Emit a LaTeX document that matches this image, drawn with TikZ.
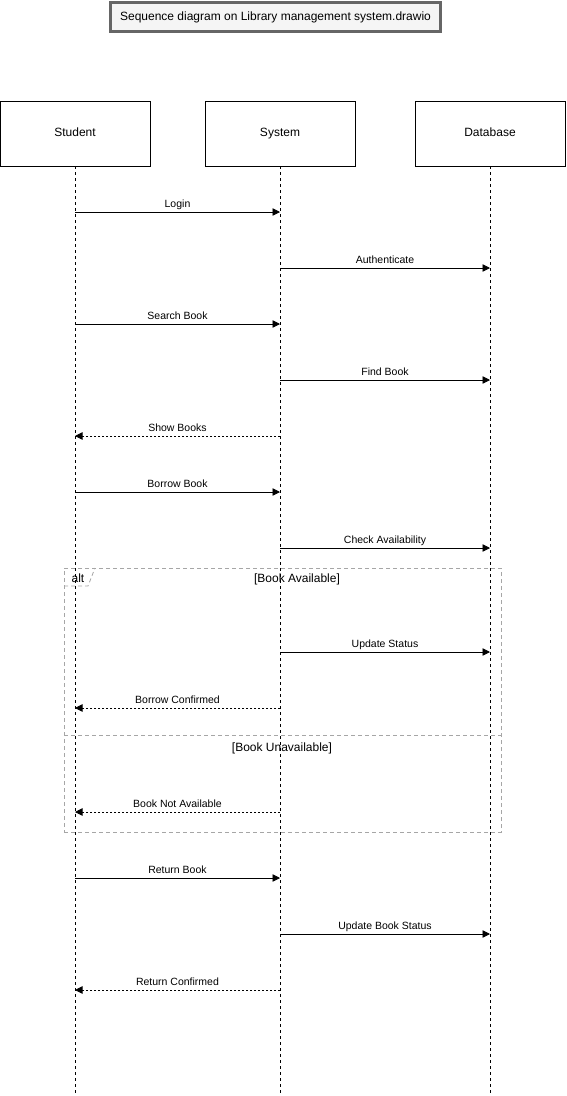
\documentclass[tikz,border=0pt]{standalone}
\usepackage{fontspec}
\setmainfont{Liberation Sans}
\usetikzlibrary{arrows.meta}
\begin{document}
\begin{tikzpicture}[x=1pt,y=-1pt,
  actor/.style={draw=black,line width=0.8pt,fill=white,minimum width=150pt,minimum height=65pt,inner sep=0pt,text height=8.5pt,text depth=2.5pt,font=\fontsize{12}{14}\selectfont},
  lifeline/.style={draw=black,line width=0.8pt,dash pattern=on 3pt off 3pt},
  msg/.style={draw=black,line width=0.8pt,-{Triangle[length=7.5pt,width=7.5pt]}},
  reply/.style={msg,dash pattern=on 2pt off 2pt},
  lbl/.style={font=\fontsize{10.5}{12}\selectfont,inner sep=0pt,anchor=base,yshift=5pt},
  frameline/.style={draw=gray!70,line width=0.8pt,dash pattern=on 4pt off 3pt},
  guard/.style={font=\fontsize{12}{14}\selectfont,inner sep=0pt,anchor=base}]
\useasboundingbox (0,0) rectangle (567,1096);

% title
\node[draw=black!60,line width=2.5pt,fill=black!4,minimum width=330pt,minimum height=29pt,inner sep=0pt,font=\fontsize{12}{14}\selectfont] (title) at (275.5,17) {Sequence diagram on Library management system.drawio};

% participants
\node[actor] (student) at (75,133.5) {Student};
\node[actor] (system) at (280,133.5) {System};
\node[actor] (db) at (490,133.5) {Database};

% lifeline ends
\coordinate (sEnd) at (75,1096);
\coordinate (yEnd) at (280,1096);
\coordinate (dEnd) at (490,1096);
\draw[lifeline] (student.south) -- (sEnd);
\draw[lifeline] (system.south) -- (yEnd);
\draw[lifeline] (db.south) -- (dEnd);

% anchor points on lifelines
\foreach \n/\y in {1/212,2/268,3/324,4/380,5/436,6/492,7/548,8/652,9/708,10/812,11/878,12/934,13/990}{
  \coordinate (s\n) at (75,\y);
  \coordinate (y\n) at (280,\y);
  \coordinate (d\n) at (490,\y);
}

% alt combined fragment
\node[frameline,minimum width=437pt,minimum height=264pt,inner sep=0pt] (alt) at (282.5,700) {};
\draw[frameline] (64,586) -- (88,586) -- (95,568);
\node[font=\fontsize{12}{14}\selectfont,inner sep=0pt,anchor=base] (altlbl) at (78,582) {alt};
\coordinate (divL) at (64,735);
\coordinate (divR) at (501,735);
\draw[frameline] (divL) -- (divR);
\node[guard] (g1) at (297,582) {[Book Available]};
\node[guard] (g2) at (282,751) {[Book Unavailable]};

% messages
\draw[msg] (s1) -- node[lbl] {Login} (y1);
\draw[msg] (y2) -- node[lbl] {Authenticate} (d2);
\draw[msg] (s3) -- node[lbl] {Search Book} (y3);
\draw[msg] (y4) -- node[lbl] {Find Book} (d4);
\draw[reply] (y5) -- node[lbl] {Show Books} (s5);
\draw[msg] (s6) -- node[lbl] {Borrow Book} (y6);
\draw[msg] (y7) -- node[lbl] {Check Availability} (d7);
\draw[msg] (y8) -- node[lbl] {Update Status} (d8);
\draw[reply] (y9) -- node[lbl] {Borrow Confirmed} (s9);
\draw[reply] (y10) -- node[lbl] {Book Not Available} (s10);
\draw[msg] (s11) -- node[lbl] {Return Book} (y11);
\draw[msg] (y12) -- node[lbl] {Update Book Status} (d12);
\draw[reply] (y13) -- node[lbl] {Return Confirmed} (s13);
\end{tikzpicture}
\end{document}
